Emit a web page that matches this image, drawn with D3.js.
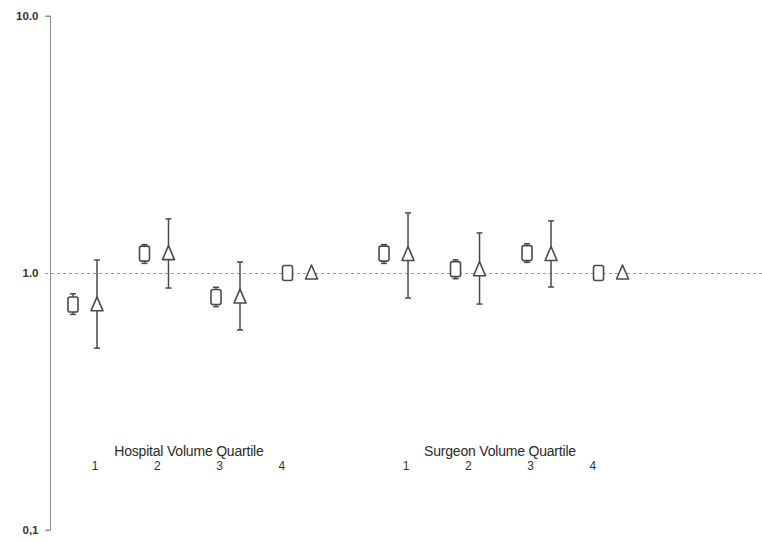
<!DOCTYPE html>
<html>
<head>
<meta charset="utf-8">
<script src="https://cdn.jsdelivr.net/npm/d3@7/dist/d3.min.js"></script>
<style>
  html, body { margin: 0; padding: 0; background: #fff; }
  svg { display: block; font-family: "Liberation Sans", Arial, sans-serif; }
</style>
</head>
<body>
<svg id="chart" width="762" height="542"></svg>
<script>
// Groups and quartile labels
const groups = ["Hospital Volume Quartile", "Surgeon Volume Quartile"];
const quartiles = ["1", "2", "3", "4"];

// Square markers: estimate with narrow interval (per group, quartiles 1..4)
const squareEst = [[0.754, 1.19, 0.806, 1.0], [1.19, 1.035, 1.195, 1.0]];
const squareLo  = [[0.690, 1.09, 0.740, null], [1.09, 0.950, 1.100, null]];
const squareHi  = [[0.830, 1.29, 0.880, null], [1.29, 1.125, 1.300, null]];

// Triangle markers: estimate with wide interval
const triEst = [[0.752, 1.19, 0.806, 1.0], [1.18, 1.03, 1.18, 1.0]];
const triLo  = [[0.510, 0.874, 0.600, null], [0.799, 0.757, 0.882, null]];
const triHi  = [[1.124, 1.624, 1.104, null], [1.714, 1.432, 1.595, null]];

// Y axis tick values and their printed labels
const yTicks = [0.1, 1, 10];
const yTickLabels = ["0,1", "1.0", "10.0"];

const svg = d3.select("#chart");
const ink = "#4a4a4a";

const y = d3.scaleLog().domain([0.1, 10]).range([530, 16]);

// Marker slots: quartiles in a row, with a gap between the two groups
const groupGap = 1.35;
const slot = (g, q) => g * (quartiles.length + groupGap - 1) + q;
const x = d3.scaleLinear().domain([0, 1]).range([73, 144.5]);
const triOffset = 24;

// Label row positions
const xLab = (g, q) => x(slot(g, 0)) + 22 + q * 62.3;

// Reference line at 1.0
svg.append("line")
  .attr("x1", 45).attr("x2", 762)
  .attr("y1", y(1) + 0.5).attr("y2", y(1) + 0.5)
  .attr("stroke", "#9a9a9a").attr("stroke-width", 1)
  .attr("stroke-dasharray", "3,3");

// Y axis
const axis = d3.axisLeft(y)
  .tickValues(yTicks)
  .tickSize(5)
  .tickFormat((d, i) => yTickLabels[i]);
const ag = svg.append("g").attr("transform", "translate(50.5,0)").call(axis);
ag.select(".domain").attr("stroke", "#8a8a8a").attr("d", `M-5,${y(10)}H0V${y(0.1)}H-5`);
ag.selectAll(".tick line").attr("stroke", "#8a8a8a");
ag.selectAll(".tick").filter(d => d === 1).select("line").remove();
ag.selectAll(".tick text")
  .attr("x", -12)
  .attr("fill", "#333")
  .style("font-size", "11.5px")
  .style("font-weight", "bold")
  .style("font-family", "'Liberation Sans', Arial, sans-serif");

const plot = svg.append("g");

groups.forEach((gName, g) => {
  quartiles.forEach((q, i) => {
    const cx = x(slot(g, i));
    const tx = cx + triOffset;

    // square interval
    if (squareLo[g][i] != null) {
      plot.append("line")
        .attr("x1", cx).attr("x2", cx)
        .attr("y1", y(squareHi[g][i])).attr("y2", y(squareLo[g][i]))
        .attr("stroke", ink).attr("stroke-width", 1.5);
      [squareHi[g][i], squareLo[g][i]].forEach(v => {
        plot.append("line")
          .attr("x1", cx - 3).attr("x2", cx + 3)
          .attr("y1", y(v)).attr("y2", y(v))
          .attr("stroke", ink).attr("stroke-width", 1.5);
      });
    }
    plot.append("rect")
      .attr("x", cx - 5).attr("y", y(squareEst[g][i]) - 7.5)
      .attr("width", 10).attr("height", 15)
      .attr("rx", 2)
      .attr("fill", "#fff").attr("stroke", ink).attr("stroke-width", 1.6);

    // triangle interval
    if (triLo[g][i] != null) {
      plot.append("line")
        .attr("x1", tx).attr("x2", tx)
        .attr("y1", y(triHi[g][i])).attr("y2", y(triLo[g][i]))
        .attr("stroke", ink).attr("stroke-width", 1.5);
      [triHi[g][i], triLo[g][i]].forEach(v => {
        plot.append("line")
          .attr("x1", tx - 3).attr("x2", tx + 3)
          .attr("y1", y(v)).attr("y2", y(v))
          .attr("stroke", ink).attr("stroke-width", 1.5);
      });
    }
    const ty = y(triEst[g][i]);
    plot.append("path")
      .attr("d", `M${tx},${ty - 8}L${tx + 6},${ty + 6}L${tx - 6},${ty + 6}Z`)
      .attr("fill", "#fff").attr("stroke", ink).attr("stroke-width", 1.6)
      .attr("stroke-linejoin", "round");

    // quartile number
    svg.append("text")
      .attr("x", xLab(g, i)).attr("y", 470)
      .attr("text-anchor", "middle")
      .attr("fill", "#333")
      .style("font-size", "12px")
      .text(q);
  });

  // group title
  svg.append("text")
    .attr("x", (xLab(g, 0) + xLab(g, 3)) / 2 + 0.5)
    .attr("y", 456)
    .attr("text-anchor", "middle")
    .attr("fill", "#2a2a2a")
    .style("font-size", "14px")
    .style("letter-spacing", "-0.2px")
    .text(gName);
});
</script>
</body>
</html>
